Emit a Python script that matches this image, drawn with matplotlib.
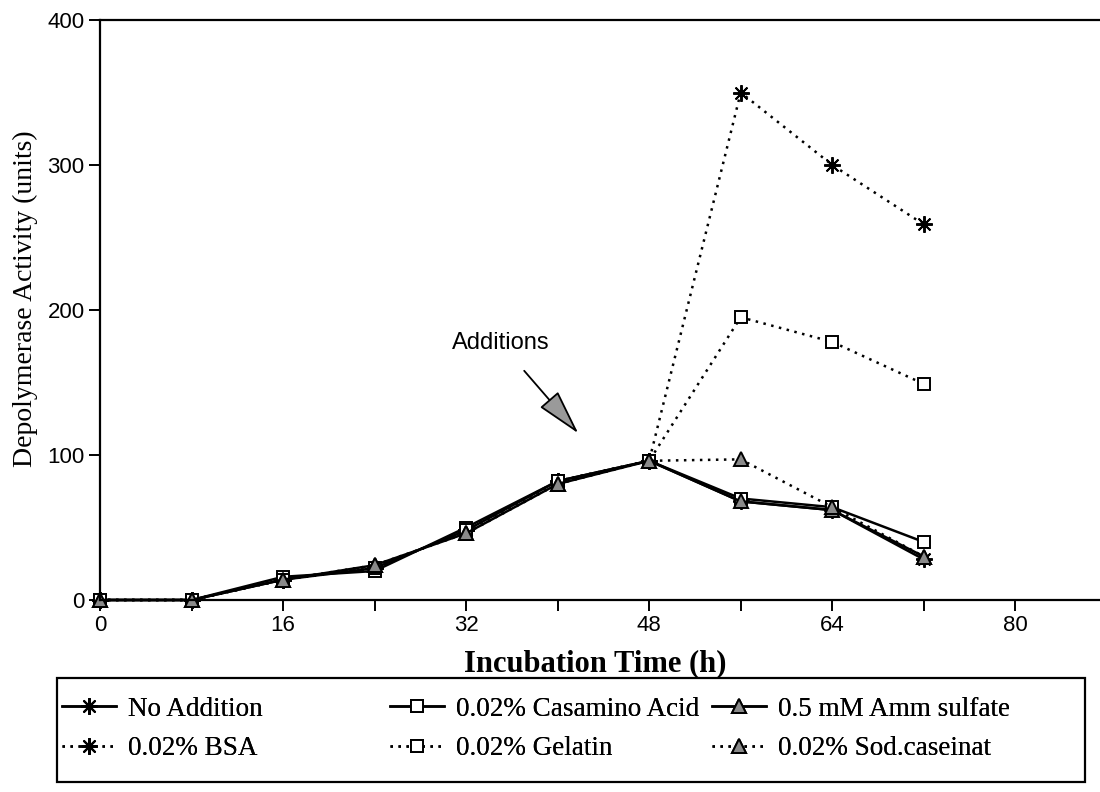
import matplotlib
matplotlib.use("Agg")
import matplotlib.pyplot as plt
from matplotlib.patches import Rectangle

hours = [0, 8, 16, 24, 32, 40, 48, 56, 64, 72]
no_addition = [0, 0, 14, 22, 48, 82, 96, 68, 62, 28]
bsa = [0, 0, 14, 22, 48, 82, 96, 350, 300, 259]
casamino = [0, 0, 16, 20, 50, 82, 96, 70, 64, 40]
gelatin = [0, 0, 14, 22, 48, 82, 96, 195, 178, 149]
amm_sulfate = [0, 0, 14, 24, 46, 80, 96, 68, 62, 30]
sod_caseinat = [0, 0, 14, 24, 46, 80, 96, 97, 64, 30]

labels = ["No Addition", "0.02% BSA", "0.02% Casamino Acid",
          "0.02% Gelatin", "0.5 mM Amm sulfate", "0.02% Sod.caseinat"]
x_major = [0, 16, 32, 48, 64, 80]
x_minor = [8, 24, 40, 56, 72]
y_ticks = [0, 100, 200, 300, 400]

SERIF = "Liberation Serif"
SANS = "Liberation Sans"
W, H = 1100, 792

fig = plt.figure(figsize=(11, 7.92), dpi=100)
ax = fig.add_axes([100 / W, 1 - 600 / H, 1000 / W, 580 / H])

dot = (0, (1, 2.2))
star = (8, 2, 0)

series = [
    (no_addition, "-", star, "black", 12),
    (bsa, dot, star, "black", 12),
    (casamino, "-", "s", "white", 9),
    (gelatin, dot, "s", "white", 9),
    (amm_sulfate, "-", "^", "#8a8a8a", 10),
    (sod_caseinat, dot, "^", "#8a8a8a", 10),
]
handles = []
for (vals, ls, mk, mfc, ms), lab in zip(series, labels):
    h, = ax.plot(hours, vals, linestyle=ls, marker=mk, mfc=mfc, mec="black",
                 ms=ms, mew=1.4, label=lab, clip_on=False,
                 color="black", lw=1.8)
    handles.append(h)

ax.set_xlim(0, 87.4)
ax.set_ylim(0, 400)
ax.spines["right"].set_visible(False)
for s in ["top", "bottom", "left"]:
    ax.spines[s].set_linewidth(1.6)

ax.set_xticks(x_major)
ax.set_xticks(x_minor, minor=True)
ax.set_yticks(y_ticks)
ax.tick_params(axis="both", which="both", direction="out", width=1.4)
ax.tick_params(axis="both", which="major", length=8, labelsize=16, pad=3)
ax.tick_params(axis="x", which="minor", length=8)
for t in ax.get_xticklabels() + ax.get_yticklabels():
    t.set_fontfamily(SANS)

ax.set_ylabel("Depolymerase Activity (units)", fontfamily=SERIF, fontsize=20)
ax.yaxis.set_label_coords(-0.062, 0.52)
ax.set_xlabel("Incubation Time (h)", fontfamily=SERIF, fontsize=22,
              fontweight="bold")
ax.xaxis.set_label_coords(0.495, -0.085)

ax.annotate("Additions", xy=(41.8, 115), xytext=(35, 177),
            ha="center", va="center", fontfamily=SANS, fontsize=17,
            arrowprops=dict(arrowstyle="-|>,head_length=1.7,head_width=0.45",
                            fc="#9a9a9a", ec="black", lw=1.3,
                            shrinkA=13, shrinkB=0))

# legend frame
top, bottom = 678, 782
fig.patches.append(Rectangle((57 / W, 1 - bottom / H), (1085 - 57) / W,
                             (bottom - top) / H, transform=fig.transFigure,
                             fill=False, ec="black", lw=1.6))
col_x = [62, 390, 712]
for i, cx in enumerate(col_x):
    lg = fig.legend(handles[2 * i:2 * i + 2], labels[2 * i:2 * i + 2],
                    loc="center left", bbox_to_anchor=(cx / W, 1 - 729 / H),
                    frameon=False, handlelength=2.0, handletextpad=0.45,
                    borderaxespad=0.0, borderpad=0.0, labelspacing=0.55,
                    prop={"family": SERIF, "size": 19.5})
    fig.add_artist(lg)

fig.savefig("out.png", dpi=100)
